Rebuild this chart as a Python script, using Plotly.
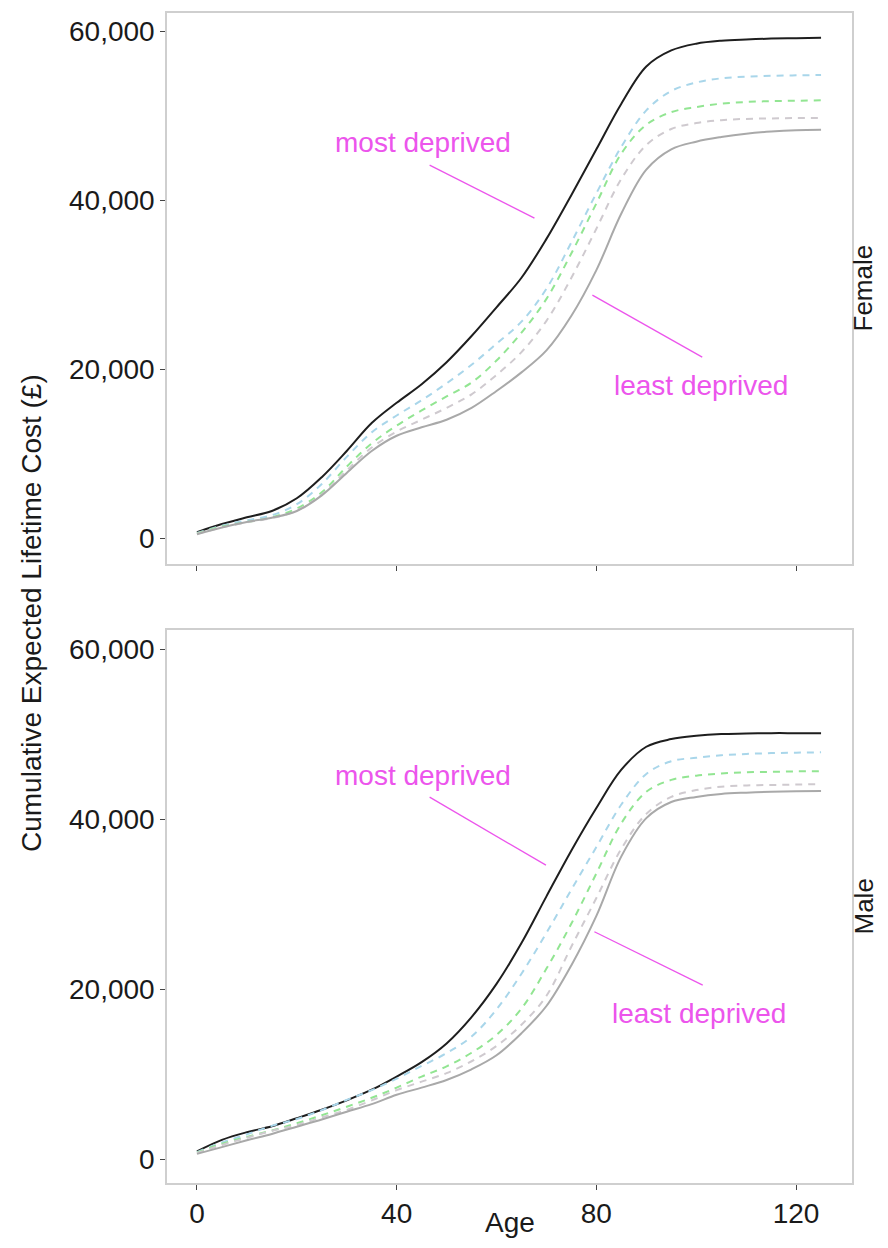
import plotly.graph_objects as go

AGES = [0, 5, 10, 15, 20, 25, 30, 35, 40, 45, 50, 55, 60, 65, 70, 75, 80, 85, 90, 95, 100, 105, 110, 115, 120, 125]

# Female (top panel), quintile 1 = most deprived ... quintile 5 = least deprived
F_Q1 = [700, 1650, 2450, 3200, 4700, 7200, 10300, 13600, 16000, 18200, 20800, 23900, 27300, 30800, 35400, 40600, 46000, 51400, 55800, 57700, 58500, 58850, 59000, 59100, 59150, 59200]
F_Q2 = [600, 1450, 2100, 2700, 4000, 6400, 9600, 12500, 14500, 16300, 18300, 20500, 23000, 25600, 29500, 35000, 40800, 46300, 50600, 52900, 53900, 54400, 54600, 54700, 54750, 54800]
F_Q3 = [550, 1350, 1900, 2450, 3500, 5400, 8450, 11200, 13300, 15100, 16750, 18400, 21000, 24300, 28300, 33700, 39600, 45500, 48900, 50400, 51000, 51400, 51600, 51700, 51750, 51800]
F_Q4 = [500, 1250, 1850, 2350, 3250, 5150, 8000, 10700, 12600, 14000, 15400, 17000, 19300, 22000, 25700, 30800, 36600, 42500, 46500, 48400, 49100, 49450, 49600, 49650, 49700, 49700]
F_Q5 = [450, 1250, 1900, 2400, 3200, 5050, 7700, 10300, 12100, 13100, 14000, 15400, 17400, 19600, 22200, 26300, 31700, 38400, 43600, 46000, 46900, 47450, 47850, 48100, 48250, 48300]

# Male (bottom panel)
M_Q1 = [900, 2250, 3150, 3850, 4800, 5800, 6900, 8150, 9700, 11400, 13600, 16700, 20600, 25400, 30900, 36300, 41300, 45800, 48500, 49400, 49800, 50000, 50050, 50100, 50100, 50100]
M_Q2 = [800, 1950, 2900, 3900, 4700, 5750, 6950, 8100, 9450, 10950, 12450, 14400, 17600, 21800, 26600, 31700, 36700, 41700, 45300, 46800, 47200, 47500, 47650, 47750, 47800, 47850]
M_Q3 = [750, 1800, 2600, 3350, 4200, 5150, 6150, 7200, 8400, 9700, 10900, 12500, 14600, 17700, 22400, 27700, 33600, 39500, 43200, 44600, 45100, 45350, 45500, 45550, 45600, 45630]
M_Q4 = [700, 1650, 2500, 3300, 4000, 4900, 5780, 6900, 8100, 9100, 10100, 11500, 13300, 15800, 19200, 25000, 30700, 36500, 40600, 42600, 43400, 43800, 43950, 44000, 44050, 44100]
M_Q5 = [600, 1400, 2200, 2950, 3800, 4650, 5560, 6450, 7550, 8400, 9300, 10550, 12200, 14800, 18000, 22800, 28600, 35600, 40100, 42000, 42600, 42950, 43100, 43200, 43250, 43280]

FEMALE = [F_Q1, F_Q2, F_Q3, F_Q4, F_Q5]
MALE = [M_Q1, M_Q2, M_Q3, M_Q4, M_Q5]
QUINTILES = ["1 (most deprived)", "2", "3", "4", "5 (least deprived)"]

X_TICKS = [0, 40, 80, 120]
Y_TICKS = [0, 20000, 40000, 60000]
Y_TICK_TEXT = ["0", "20,000", "40,000", "60,000"]
PANELS = ["Female", "Male"]

STYLES = [
    dict(color="#1e1e1e", width=2.0, dash="solid"),
    dict(color="#a9d6ea", width=2.0, dash="7px,6px"),
    dict(color="#92e592", width=2.0, dash="7px,6px"),
    dict(color="#cfcacf", width=2.0, dash="7px,6px"),
    dict(color="#a9a9a9", width=2.0, dash="solid"),
]

FONT = "Liberation Sans, Arial, sans-serif"
MAGENTA = "#ec55ec"
FS = 28

fig = go.Figure()
for panel_idx, series in enumerate([FEMALE, MALE]):
    xa = "x" if panel_idx == 0 else "x2"
    ya = "y" if panel_idx == 0 else "y2"
    for q, vals in enumerate(series):
        fig.add_trace(go.Scatter(
            x=AGES, y=vals, mode="lines", name=QUINTILES[q],
            line=dict(color=STYLES[q]["color"], width=STYLES[q]["width"],
                      dash=STYLES[q]["dash"], shape="spline", smoothing=1.0),
            xaxis=xa, yaxis=ya, showlegend=False, hoverinfo="skip",
        ))

# page has an 8px body margin; figure sized to fit inside the window
OFF = 8
W, H = 888 - 2 * OFF, 1248 - 2 * OFF


def px(v):
    return (v - OFF) / W


def py(v):
    return 1 - (v - OFF) / H


left, right = px(167), px(852)
top_dom = [py(564), py(13)]
bot_dom = [py(1183), py(630)]

axis_common = dict(
    showgrid=False, zeroline=False, showline=True, mirror=True,
    linecolor="#cfcfcf", linewidth=1.5, ticks="outside", ticklen=5,
    tickwidth=1.2, tickcolor="#444444",
    tickfont=dict(family=FONT, size=FS, color="#1a1a1a"),
)

fig.update_layout(
    width=W, height=H,
    margin=dict(l=0, r=0, t=0, b=0),
    paper_bgcolor="white", plot_bgcolor="white",
    font=dict(family=FONT, color="#1a1a1a"),
    xaxis=dict(domain=[left, right], range=[-6, 131.2], anchor="y",
               tickvals=X_TICKS, showticklabels=False, **axis_common),
    yaxis=dict(domain=top_dom, range=[-3077, 62130], anchor="x",
               tickvals=Y_TICKS, ticktext=Y_TICK_TEXT, **axis_common),
    xaxis2=dict(domain=[left, right], range=[-6, 131.2], anchor="y2",
                tickvals=X_TICKS, **axis_common),
    yaxis2=dict(domain=bot_dom, range=[-2824, 62235], anchor="x2",
                tickvals=Y_TICKS, ticktext=Y_TICK_TEXT, **axis_common),
)

ann_font = dict(family=FONT, size=FS, color=MAGENTA)
annots = [
    ("x", "y", "most deprived", 45.2, 46850),
    ("x", "y", "least deprived", 101.0, 18100),
    ("x2", "y2", "most deprived", 45.2, 45160),
    ("x2", "y2", "least deprived", 100.6, 17170),
]
for xr, yr, txt, ax_, ay_ in annots:
    fig.add_annotation(xref=xr, yref=yr, x=ax_, y=ay_, text=txt,
                       xanchor="center", yanchor="middle",
                       showarrow=False, font=ann_font)

pointer_lines = [
    ("x", "y", 46.6, 44130, 67.6, 37860),
    ("x", "y", 79.2, 28750, 101.2, 21410),
    ("x2", "y2", 46.6, 42570, 69.9, 34570),
    ("x2", "y2", 79.6, 26730, 101.3, 20460),
]
for xr, yr, x0, y0, x1, y1 in pointer_lines:
    fig.add_shape(type="line", xref=xr, yref=yr, x0=x0, y0=y0, x1=x1, y1=y1,
                  line=dict(color=MAGENTA, width=1.3))

# facet strip labels (kept inside the figure's right edge)
for i, name in enumerate(PANELS):
    dom = top_dom if i == 0 else bot_dom
    fig.add_annotation(xref="paper", yref="paper", x=1.0, y=(dom[0] + dom[1]) / 2,
                       text=name, textangle=-90, showarrow=False,
                       xanchor="right", yanchor="middle",
                       font=dict(family=FONT, size=26, color="#1a1a1a"))

# axis titles
fig.add_annotation(xref="paper", yref="paper", x=px(31), y=py(613),
                   text="Cumulative Expected Lifetime Cost (£)", textangle=-90,
                   xanchor="center", yanchor="middle",
                   showarrow=False, font=dict(family=FONT, size=FS, color="#1a1a1a"))
fig.add_annotation(xref="paper", yref="paper", x=px(510), y=0.0,
                   text="Age", showarrow=False,
                   xanchor="center", yanchor="bottom",
                   font=dict(family=FONT, size=FS, color="#1a1a1a"))

fig.write_html("out.html")
